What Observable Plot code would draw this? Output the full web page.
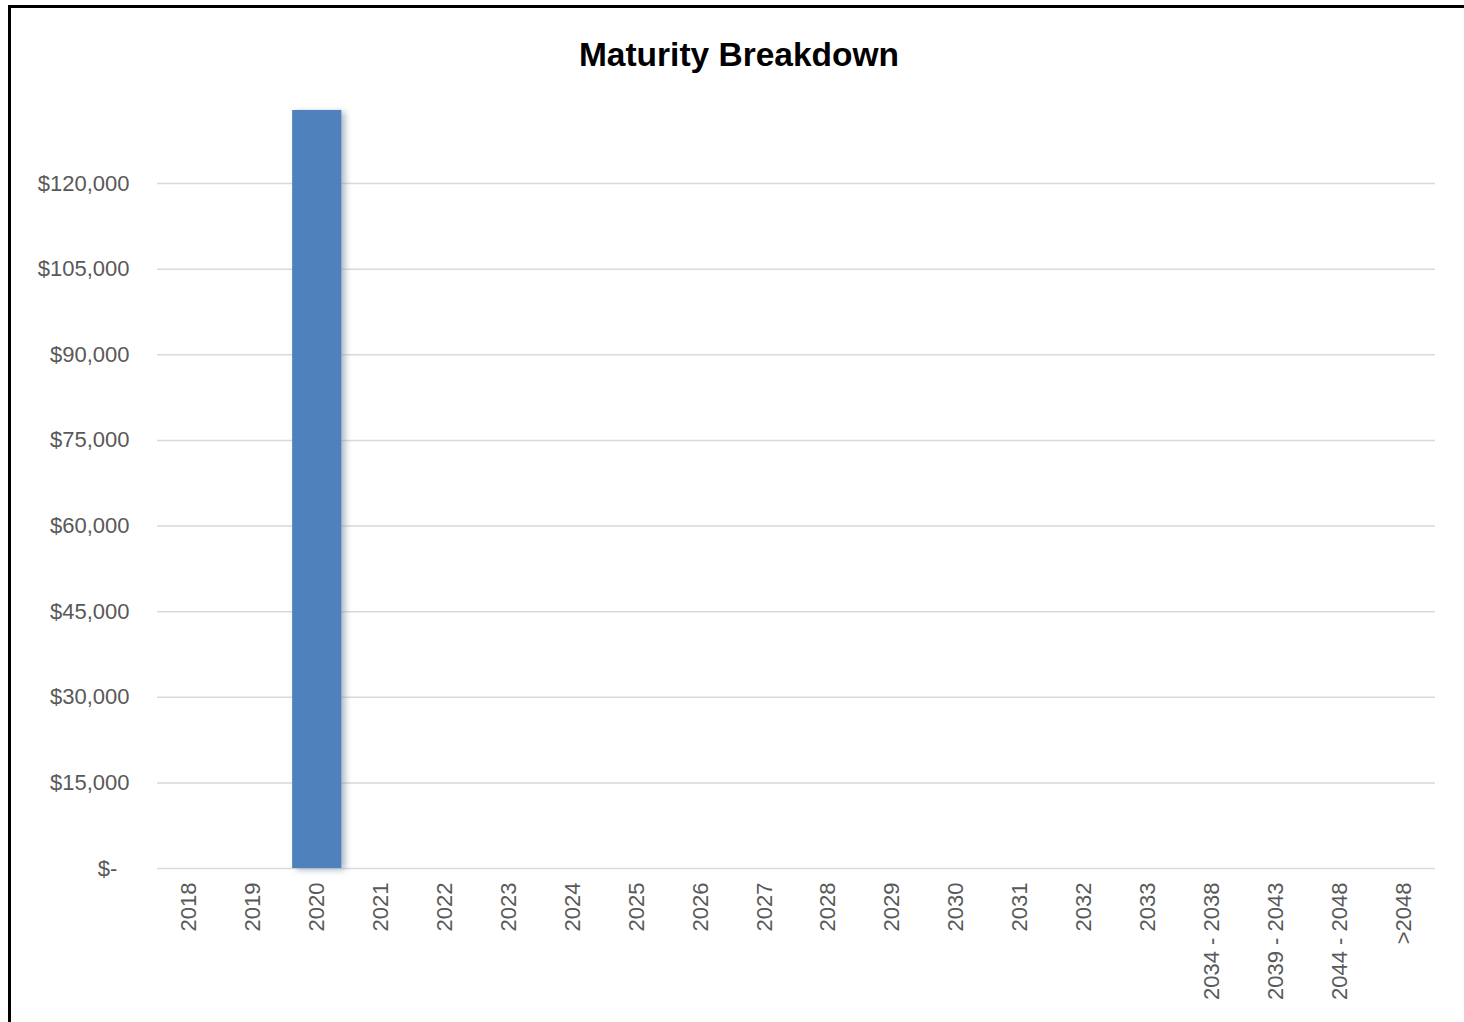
<!DOCTYPE html>
<html>
<head>
<meta charset="utf-8">
<script src="https://cdn.jsdelivr.net/npm/d3@7"></script>
<script src="https://cdn.jsdelivr.net/npm/@observablehq/plot@0.6"></script>
<style>
  html, body { margin: 0; padding: 0; background: #fff; overflow: hidden; width: 1464px; height: 1022px; }
  #frame { position: absolute; left: 8px; top: 5px; width: 1470px; height: 1100px; border: 3px solid #000; }
  #title { position: absolute; left: 0; top: 36px; width: 1478px; text-align: center;
           font-family: "Liberation Sans", Arial, sans-serif; font-weight: bold; font-size: 33.5px; color: #000; }
  #chart { position: absolute; left: 0; top: 90px; }
</style>
</head>
<body>
<div id="frame"></div>
<div id="title">Maturity Breakdown</div>
<div id="chart"></div>
<script>
const categories = ["2018","2019","2020","2021","2022","2023","2024","2025","2026","2027","2028","2029","2030","2031","2032","2033","2034 - 2038","2039 - 2043","2044 - 2048",">2048"];
const values = [0, 0, 132800, 0, 0, 0, 0, 0, 0, 0, 0, 0, 0, 0, 0, 0, 0, 0, 0, 0];
const yTicks = [0, 15000, 30000, 45000, 60000, 75000, 90000, 105000, 120000];

const data = categories.map((c, i) => ({category: c, value: values[i]}));
const fmt = d => d === 0 ? "$-\u2007" : "$" + d3.format(",")(d);

const chart = Plot.plot({
  width: 1464,
  height: 932,
  marginLeft: 157,
  marginRight: 29,
  marginTop: 7.4,
  marginBottom: 154,
  style: { fontFamily: "'Liberation Sans', Arial, sans-serif", fontSize: "22px", color: "#595959", background: "transparent" },
  x: { domain: categories, paddingInner: 0.23, paddingOuter: 0.115, round: false, label: null },
  y: { domain: [0, 135000], label: null },
  marks: [
    Plot.gridY(yTicks, { stroke: "#d9d9d9", strokeOpacity: 1, strokeWidth: 1.5 }),
    Plot.barY(data.filter(d => d.value > 0), { x: "category", y: "value", fill: "#4f81bd" }),
    Plot.axisY(yTicks, { tickFormat: fmt, tickSize: 0, tickPadding: 28, fill: "#595959", fontSize: 22 }),
    Plot.axisX({ tickSize: 0, tickPadding: 14, tickRotate: -90, fill: "#595959", fontSize: 22 })
  ]
});

// drop shadow on bars like the reference
const svg = d3.select(chart);
const defs = svg.insert("defs", ":first-child");
const f = defs.append("filter").attr("id", "shadow").attr("x", "-20%").attr("y", "-5%").attr("width", "160%").attr("height", "110%");
f.append("feDropShadow").attr("dx", 4).attr("dy", 2).attr("stdDeviation", 3).attr("flood-color", "#7f8fa8").attr("flood-opacity", 0.6);
svg.selectAll("g[aria-label='bar'] rect").attr("filter", "url(#shadow)");

document.getElementById("chart").appendChild(chart);
</script>
</body>
</html>
